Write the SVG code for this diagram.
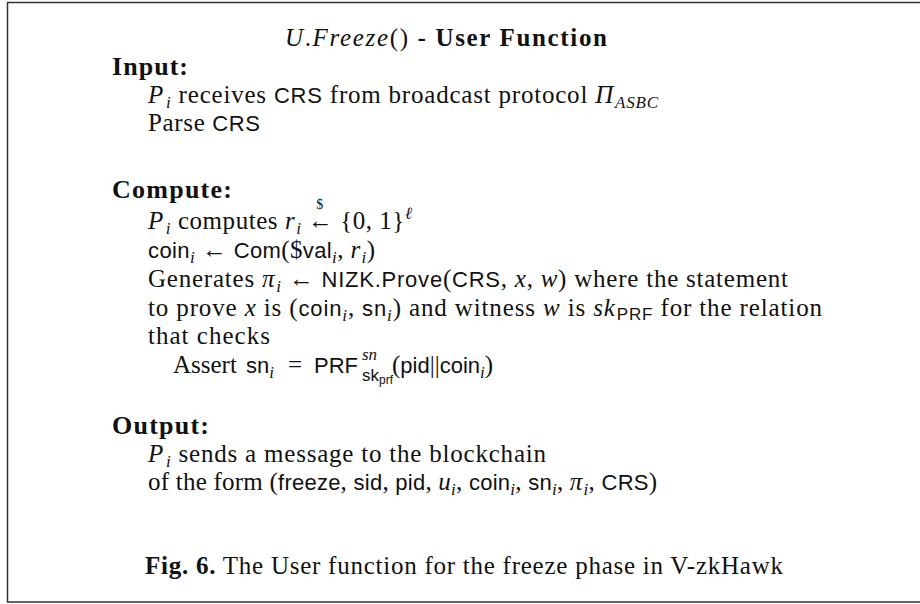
<svg xmlns="http://www.w3.org/2000/svg" width="920" height="604" viewBox="0 0 920 604">
<style>
text { font-family: "Liberation Serif", "DejaVu Serif", serif; font-size: 25px; fill: #111; }
.b { font-weight: bold; }
.h { font-weight: bold; font-size: 26px; }
.i { font-style: italic; }
.s { font-family: "Liberation Sans", "DejaVu Sans", sans-serif; font-size: 22px; }
.sub { font-size: 17px; }
.ss { font-size: 12px; }
.frame { fill: none; stroke: #333; stroke-width: 1.5; }
</style>
<rect width="920" height="604" fill="#fff"/>
<path class="frame" d="M921 2.5 H7.5 V602 H921"/>

<g id="title">
<text x="285" y="46" textLength="322"><tspan class="i">U</tspan>.<tspan class="i">Freeze</tspan>() <tspan class="b">- User Function</tspan></text>
</g>

<g id="input">
<text class="h" x="112" y="75" textLength="76">Input:</text>
<text x="148" y="103" textLength="510"><tspan class="i">P</tspan><tspan class="i sub" dx="2" dy="5">i</tspan><tspan dy="-5"> receives </tspan><tspan class="s">CRS</tspan> from broadcast protocol <tspan class="i">Π</tspan><tspan class="i sub" dx="1" dy="5">ASBC</tspan></text>
<text x="148" y="131" textLength="112">Parse <tspan class="s">CRS</tspan></text>
</g>

<g id="compute">
<text class="h" x="112" y="198" textLength="120">Compute:</text>
<text x="148" y="229" textLength="264"><tspan class="i">P</tspan><tspan class="i sub" dx="2" dy="5">i</tspan><tspan dy="-5"> computes </tspan><tspan class="i">r</tspan><tspan class="i sub" dx="1" dy="5">i</tspan><tspan dy="-5"> </tspan><tspan style="font-size:14px" dx="8" dy="-20">$</tspan><tspan dx="-16" dy="20">← {0, 1}</tspan><tspan class="i sub" dy="-10">ℓ</tspan></text>
<text x="148" y="258" textLength="227"><tspan class="s">coin</tspan><tspan class="i sub" dy="5">i</tspan><tspan dy="-5"> ← </tspan><tspan class="s">Com</tspan>($<tspan class="s">val</tspan><tspan class="i sub" dy="5">i</tspan><tspan dy="-5">, </tspan><tspan class="i">r</tspan><tspan class="i sub" dx="1" dy="5">i</tspan><tspan dy="-5">)</tspan></text>
<text x="148" y="287" textLength="640">Generates <tspan class="i">π</tspan><tspan class="i sub" dx="1" dy="5">i</tspan><tspan dy="-5"> ← </tspan><tspan class="s">NIZK.Prove</tspan>(<tspan class="s">CRS</tspan>, <tspan class="i">x</tspan>, <tspan class="i">w</tspan>) where the statement</text>
<text x="148" y="316" textLength="674">to prove <tspan class="i">x</tspan> is (<tspan class="s">coin</tspan><tspan class="i sub" dy="5">i</tspan><tspan dy="-5">, </tspan><tspan class="s">sn</tspan><tspan class="i sub" dy="5">i</tspan><tspan dy="-5">) and witness </tspan><tspan class="i">w</tspan> is <tspan class="i">sk</tspan><tspan class="s sub" dx="1" dy="4">PRF</tspan><tspan dy="-4"> for the relation</tspan></text>
<text x="148" y="344" textLength="122">that checks</text>
<text x="173" y="373">Assert</text>
<text x="246" y="373"><tspan class="s">sn</tspan><tspan class="i sub" dy="5">i</tspan></text>
<text x="288" y="373">=</text>
<text class="s" x="314" y="373">PRF</text>
<text class="i sub" x="362" y="360">sn</text>
<text class="s sub" x="362" y="381">sk<tspan class="ss" dy="3">prf</tspan></text>
<text x="392" y="373">(<tspan class="s">pid</tspan>||<tspan class="s">coin</tspan><tspan class="i sub" dy="5">i</tspan><tspan dy="-5">)</tspan></text>
</g>

<g id="output">
<text class="h" x="112" y="434" textLength="97">Output:</text>
<text x="148" y="462" textLength="398"><tspan class="i">P</tspan><tspan class="i sub" dx="2" dy="5">i</tspan><tspan dy="-5"> sends a message to the blockchain</tspan></text>
<text x="148" y="490" textLength="509">of the form (<tspan class="s">freeze</tspan>, <tspan class="s">sid</tspan>, <tspan class="s">pid</tspan>, <tspan class="i">u</tspan><tspan class="i sub" dy="5">i</tspan><tspan dy="-5">, </tspan><tspan class="s">coin</tspan><tspan class="i sub" dy="5">i</tspan><tspan dy="-5">, </tspan><tspan class="s">sn</tspan><tspan class="i sub" dy="5">i</tspan><tspan dy="-5">, </tspan><tspan class="i">π</tspan><tspan class="i sub" dx="1" dy="5">i</tspan><tspan dy="-5">, </tspan><tspan class="s">CRS</tspan>)</text>
</g>

<g id="caption">
<text x="145" y="574" textLength="638"><tspan class="b">Fig. 6.</tspan> The User function for the freeze phase in V-zkHawk</text>
</g>
</svg>
